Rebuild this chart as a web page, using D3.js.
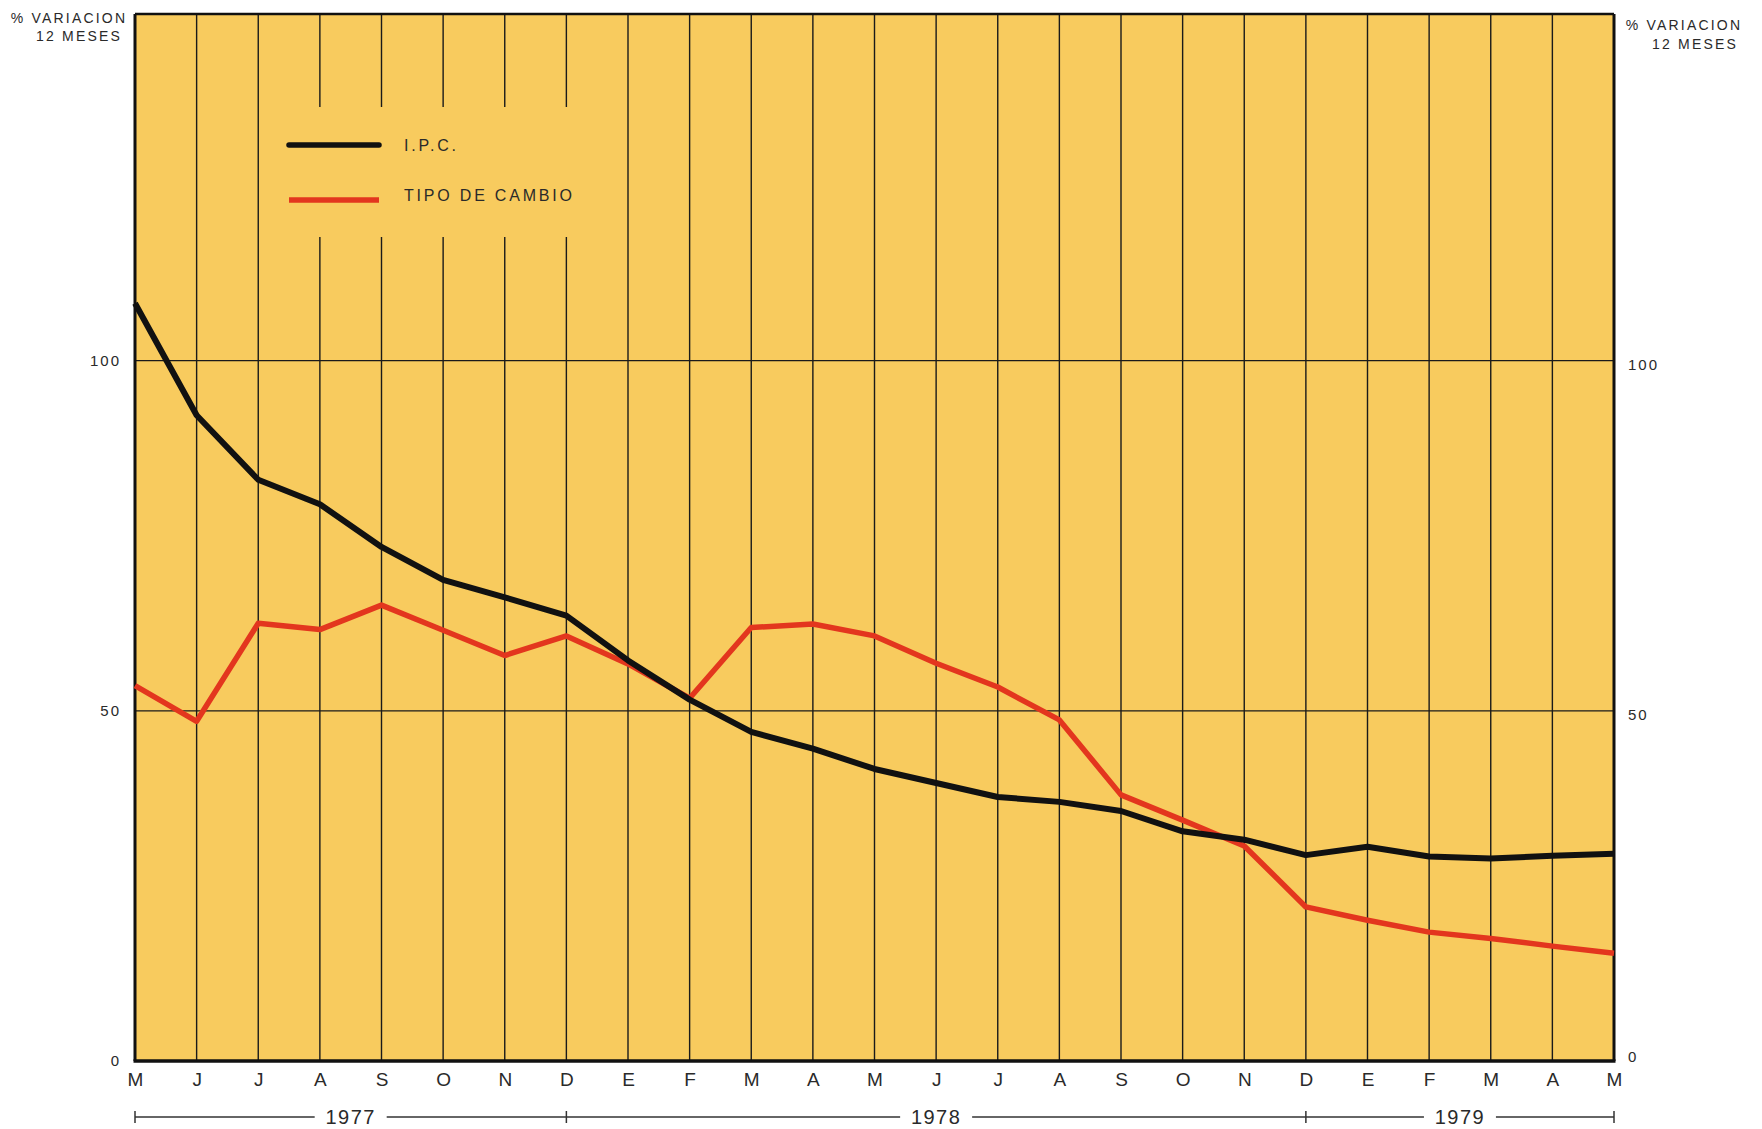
<!DOCTYPE html>
<html>
<head>
<meta charset="utf-8">
<script src="https://cdn.jsdelivr.net/npm/d3@7"></script>
<style>
  html, body { margin: 0; padding: 0; background: #ffffff; }
  svg { display: block; }
  text { font-family: "Liberation Sans", Arial, sans-serif; fill: #2a2a2a; }
</style>
</head>
<body>
<svg id="chart" width="1762" height="1129"></svg>
<script>
// ---- Data ----
const months = ["M","J","J","A","S","O","N","D","E","F","M","A","M","J","J","A","S","O","N","D","E","F","M","A","M"];
const ipc = [108.2, 92.2, 83.0, 79.5, 73.4, 68.7, 66.2, 63.6, 57.2, 51.6, 47.0, 44.6, 41.7, 39.7, 37.7, 37.0, 35.7, 32.8, 31.6, 29.4, 30.6, 29.2, 28.9, 29.3, 29.6];
const tipoCambio = [53.6, 48.5, 62.5, 61.6, 65.1, 61.5, 57.9, 60.7, 56.7, 51.8, 61.9, 62.4, 60.7, 56.8, 53.4, 48.7, 38.0, 34.4, 30.7, 22.0, 20.1, 18.4, 17.5, 16.4, 15.4];
const yTicks = [0, 50, 100];
const years = [
  { label: "1977", from: 0, to: 7 },
  { label: "1978", from: 7, to: 19 },
  { label: "1979", from: 19, to: 24 }
];
const seriesNames = ["I.P.C.", "TIPO DE CAMBIO"];
const axisTitle = ["% VARIACION", "12 MESES"];

(function () {
// ---- Layout ----
const svg = d3.select("#chart");
const pL = 135, pR = 1614, pT = 14, pB = 1061;
const yMax = 149.5;
const bg = "#F8CB5E";
const red = "#E3361E";

const x = d3.scalePoint().domain(d3.range(months.length)).range([pL, pR]);
const y = d3.scaleLinear().domain([0, yMax]).range([pB, pT]);

// plot background
svg.append("rect")
  .attr("x", pL).attr("y", pT)
  .attr("width", pR - pL).attr("height", pB - pT)
  .attr("fill", bg);

// vertical grid (every month)
svg.append("g")
  .selectAll("line")
  .data(d3.range(1, months.length - 1))
  .join("line")
  .attr("x1", d => x(d)).attr("x2", d => x(d))
  .attr("y1", pT).attr("y2", pB)
  .attr("stroke", "#1a1a1a").attr("stroke-width", 1.4);

// horizontal grid
svg.append("g")
  .selectAll("line")
  .data(yTicks.filter(d => d > 0))
  .join("line")
  .attr("x1", pL).attr("x2", pR)
  .attr("y1", d => y(d)).attr("y2", d => y(d))
  .attr("stroke", "#1a1a1a").attr("stroke-width", 1.4);

// legend box (covers grid)
const lg = svg.append("g");
lg.append("rect")
  .attr("x", 266).attr("y", 107).attr("width", 345).attr("height", 130)
  .attr("fill", bg);
const legendItems = [
  { name: seriesNames[0], color: "#111", y: 145, cap: "round", ty: 145 },
  { name: seriesNames[1], color: red, y: 200, cap: "butt", ty: 195 }
];
legendItems.forEach(it => {
  lg.append("line")
    .attr("x1", 289).attr("x2", 379)
    .attr("y1", it.y).attr("y2", it.y)
    .attr("stroke", it.color).attr("stroke-width", 5.5)
    .attr("stroke-linecap", it.cap);
  lg.append("text")
    .attr("x", 404).attr("y", it.ty)
    .attr("dominant-baseline", "central")
    .attr("font-size", 16)
    .attr("letter-spacing", 2.8)
    .text(it.name);
});

// plot frame
svg.append("line").attr("x1", pL).attr("x2", pL).attr("y1", pT).attr("y2", pB)
  .attr("stroke", "#111").attr("stroke-width", 3);
svg.append("line").attr("x1", pR).attr("x2", pR).attr("y1", pT).attr("y2", pB)
  .attr("stroke", "#111").attr("stroke-width", 3);
svg.append("line").attr("x1", pL).attr("x2", pR).attr("y1", pT).attr("y2", pT)
  .attr("stroke", "#111").attr("stroke-width", 2.5);
svg.append("line").attr("x1", pL - 1.5).attr("x2", pR + 1.5).attr("y1", pB).attr("y2", pB)
  .attr("stroke", "#111").attr("stroke-width", 3.5);

// series lines
const line = d3.line().x((d, i) => x(i)).y(d => y(d));
svg.append("path")
  .datum(tipoCambio)
  .attr("d", line)
  .attr("fill", "none")
  .attr("stroke", red)
  .attr("stroke-width", 5.5)
  .attr("stroke-linejoin", "round");
svg.append("path")
  .datum(ipc)
  .attr("d", line)
  .attr("fill", "none")
  .attr("stroke", "#111")
  .attr("stroke-width", 6)
  .attr("stroke-linejoin", "round");

// y axes (left & right)
const yAxisL = d3.axisLeft(y).tickValues(yTicks).tickSize(0).tickPadding(14);
const gL = svg.append("g").attr("transform", `translate(${pL},0)`).call(yAxisL);
gL.select(".domain").remove();
gL.selectAll("text")
  .attr("font-size", 15).attr("letter-spacing", 2)
  .attr("font-family", "'Liberation Sans', Arial, sans-serif")
  .attr("fill", "#2a2a2a");

const yAxisR = d3.axisRight(y).tickValues(yTicks).tickSize(0).tickPadding(14);
const gR = svg.append("g").attr("transform", `translate(${pR},0)`).call(yAxisR);
gR.select(".domain").remove();
gR.selectAll("text")
  .attr("font-size", 15).attr("letter-spacing", 2)
  .attr("font-family", "'Liberation Sans', Arial, sans-serif")
  .attr("fill", "#2a2a2a")
  .attr("dy", d => d === 0 ? "0.05em" : "0.6em");

// x axis month letters
const xAxis = d3.axisBottom(x).tickFormat(i => months[i]).tickSize(0).tickPadding(12);
const gX = svg.append("g").attr("transform", `translate(0,${pB})`).call(xAxis);
gX.select(".domain").remove();
gX.selectAll("text")
  .attr("font-size", 19)
  .attr("font-family", "'Liberation Sans', Arial, sans-serif")
  .attr("fill", "#2a2a2a");

// year brackets
const yearY = 1117;
const yg = svg.append("g");
years.forEach(yr => {
  const x0 = x(yr.from), x1 = x(yr.to), cx = (x0 + x1) / 2;
  yg.append("text")
    .attr("x", cx).attr("y", yearY)
    .attr("text-anchor", "middle")
    .attr("dominant-baseline", "central")
    .attr("font-size", 20)
    .attr("letter-spacing", 1.5)
    .text(yr.label);
  const half = 36;
  yg.append("line").attr("x1", x0).attr("x2", cx - half).attr("y1", yearY).attr("y2", yearY)
    .attr("stroke", "#333").attr("stroke-width", 1.3);
  yg.append("line").attr("x1", cx + half).attr("x2", x1).attr("y1", yearY).attr("y2", yearY)
    .attr("stroke", "#333").attr("stroke-width", 1.3);
});
// boundary ticks
const bounds = [years[0].from].concat(years.map(yr => yr.to));
yg.selectAll("line.tk")
  .data(bounds)
  .join("line")
  .attr("class", "tk")
  .attr("x1", d => x(d)).attr("x2", d => x(d))
  .attr("y1", yearY - 6).attr("y2", yearY + 6)
  .attr("stroke", "#333").attr("stroke-width", 1.5);

// axis titles
const titleL = svg.append("text").attr("font-size", 14).attr("letter-spacing", 2.2).attr("text-anchor", "middle");
titleL.append("tspan").attr("x", 69).attr("y", 23).text(axisTitle[0]);
titleL.append("tspan").attr("x", 79).attr("y", 41).text(axisTitle[1]);

const titleR = svg.append("text").attr("font-size", 14).attr("letter-spacing", 2.2).attr("text-anchor", "middle");
titleR.append("tspan").attr("x", 1684).attr("y", 30).text(axisTitle[0]);
titleR.append("tspan").attr("x", 1695).attr("y", 49).text(axisTitle[1]);
})();
</script>
</body>
</html>
